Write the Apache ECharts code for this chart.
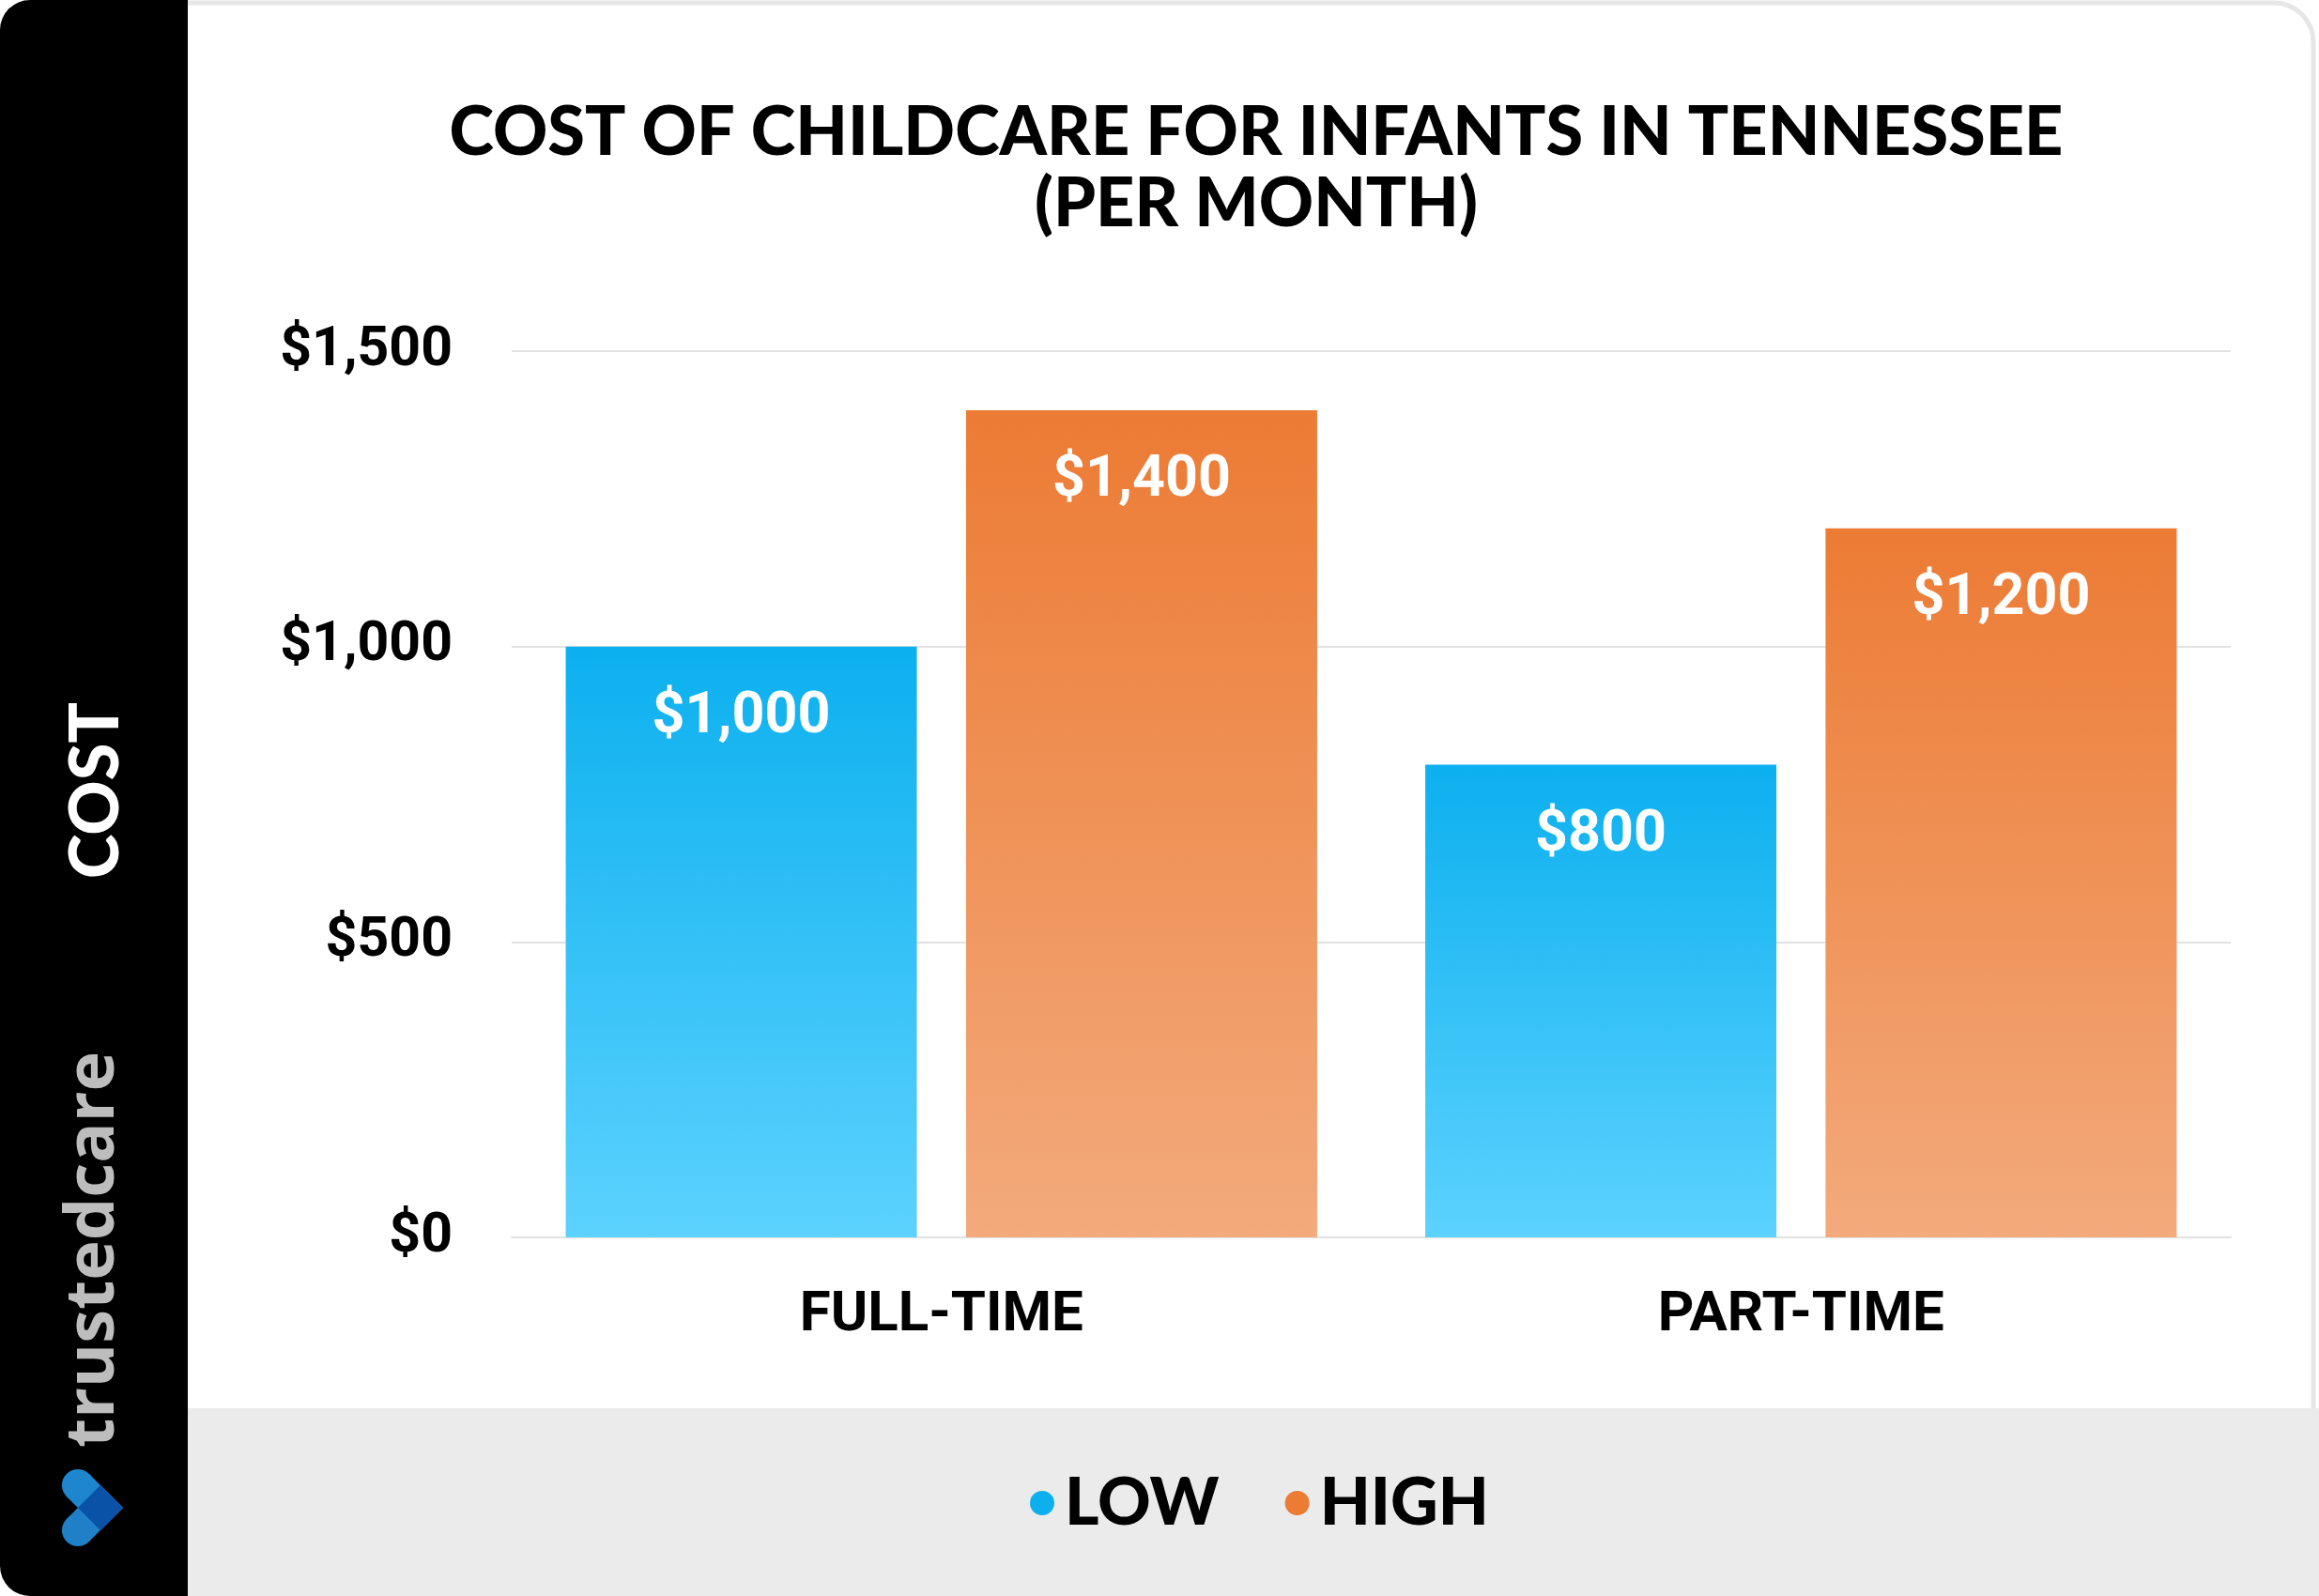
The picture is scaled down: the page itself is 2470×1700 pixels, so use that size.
<!DOCTYPE html>
<html>
<head>
<meta charset="utf-8">
<script src="https://cdn.jsdelivr.net/npm/echarts@6/dist/echarts.min.js"></script>
<style>
  html, body { margin: 0; padding: 0; background: #fff; }
  #chart { width: 2470px; height: 1700px; }
</style>
</head>
<body>
<div id="chart"></div>
<script>
  // data
  var categories = ['FULL-TIME', 'PART-TIME']
  var lowValues = [1000, 800]
  var highValues = [1400, 1200]
  var seriesNames = ['LOW', 'HIGH']
  var yTicks = [0, 500, 1000, 1500]

  var titleText = 'COST OF CHILDCARE FOR INFANTS IN TENNESSEE\n(PER MONTH)'
  var axisName = 'COST'
  var brandText = 'trustedcare'

  var blueTop = '#0cb0ef', blueBottom = '#5cd2fe'
  var orangeTop = '#ec7b34', orangeBottom = '#f3aa7c'

  function money(v) {
    return '$' + v.toLocaleString('en-US')
  }

  function grad(top, bottom) {
    return new echarts.graphic.LinearGradient(0, 0, 0, 1, [
      {offset: 0, color: top},
      {offset: 1, color: bottom}
    ])
  }

  // logo: two arms of a heart pointing right
  var T = [131, 1606], w = 34, L = 51, r2 = Math.SQRT1_2
  function add(a, b, k) { return [a[0] + b[0] * k, a[1] + b[1] * k] }
  var u = [-r2, -r2], n1 = [r2, -r2], v = [-r2, r2], n2 = [r2, r2]
  function armPoints(dir, nrm) {
    var b = add(T, dir, L)
    return [T, b, add(b, nrm, -w), add(T, nrm, -w)]
  }
  function armEnd(dir, nrm) {
    return add(add(T, dir, L), nrm, -w / 2)
  }
  var overlap = [T, add(T, n1, -w), add(add(T, n1, -w), n2, -w), add(T, n2, -w)]
  var endA = armEnd(u, n1), endB = armEnd(v, n2)

  var chart = echarts.init(document.getElementById('chart'))

  var labelStyle = {
    show: true, position: 'insideTop', distance: 46,
    fontFamily: 'Roboto', fontWeight: 'bold', fontSize: 61, lineHeight: 60,
    color: '#ffffff',
    formatter: function (p) { return money(p.value) }
  }

  var option = {
    animation: false,
    backgroundColor: '#ffffff',
    graphic: [
      {
        type: 'rect', z: -10, silent: true,
        shape: {x: 100, y: 3, width: 2364, height: 1694, r: [0, 42, 0, 0]},
        style: {fill: '#ffffff', stroke: '#e6e6e6', lineWidth: 5}
      },
      {
        type: 'rect', z: -9, silent: true,
        shape: {x: 150, y: 1500, width: 2320, height: 200},
        style: {fill: '#ebebeb'}
      },
      {
        type: 'rect', z: -8, silent: true,
        shape: {x: 0, y: 0, width: 200, height: 1700, r: [32, 0, 0, 32]},
        style: {fill: '#000000'}
      },
      {
        type: 'text', z: 10, silent: true,
        x: 1338, y: 180,
        style: {
          text: titleText, align: 'center', verticalAlign: 'middle',
          fontFamily: 'Lato', fontWeight: 900, fontSize: 72, lineHeight: 76,
          fill: '#000000'
        }
      },
      {
        type: 'text', z: 10, silent: true,
        x: 103, y: 842, rotation: Math.PI / 2,
        style: {
          text: axisName, align: 'center', verticalAlign: 'middle',
          fontFamily: 'Lato', fontWeight: 900, fontSize: 72, fill: '#ffffff'
        }
      },
      {
        type: 'text', z: 10, silent: true,
        x: 100, y: 1331, rotation: Math.PI / 2,
        style: {
          text: brandText, align: 'center', verticalAlign: 'middle',
          fontFamily: 'Open Sans', fontWeight: 'bold', fontSize: 72, fill: '#bdbdbd'
        }
      },
      {type: 'polygon', z: 10, silent: true, shape: {points: armPoints(u, n1)}, style: {fill: '#1e86cf'}},
      {type: 'circle', z: 10, silent: true, shape: {cx: endA[0], cy: endA[1], r: w / 2}, style: {fill: '#1e86cf'}},
      {type: 'polygon', z: 10, silent: true, shape: {points: armPoints(v, n2)}, style: {fill: '#1f7fc7'}},
      {type: 'circle', z: 10, silent: true, shape: {cx: endB[0], cy: endB[1], r: w / 2}, style: {fill: '#1f7fc7'}},
      {type: 'polygon', z: 11, silent: true, shape: {points: overlap}, style: {fill: '#0a52a8'}}
    ],
    legend: {
      left: 1092,
      top: 1561,
      itemWidth: 26,
      itemHeight: 26,
      itemGap: 70,
      icon: 'circle',
      textStyle: {
        fontFamily: 'Lato', fontWeight: 900, fontSize: 70, lineHeight: 70,
        color: '#000000', padding: [0, 0, 0, 6]
      },
      data: [
        {name: seriesNames[0], itemStyle: {color: blueTop}},
        {name: seriesNames[1], itemStyle: {color: orangeTop}}
      ]
    },
    grid: {
      left: 545,
      right: 94,
      top: 374,
      bottom: 382
    },
    xAxis: {
      type: 'category',
      data: categories,
      axisLine: {show: true, lineStyle: {color: '#e2e2e2', width: 2}},
      axisTick: {show: false},
      axisLabel: {
        margin: 54,
        fontFamily: 'Roboto', fontWeight: 'bold', fontSize: 60,
        color: '#000000'
      }
    },
    yAxis: {
      type: 'value',
      min: yTicks[0],
      max: yTicks[yTicks.length - 1],
      interval: yTicks[1] - yTicks[0],
      axisLine: {show: false},
      axisTick: {show: false},
      splitLine: {lineStyle: {color: '#e2e2e2', width: 2}},
      axisLabel: {
        margin: 63,
        fontFamily: 'Roboto', fontWeight: 'bold', fontSize: 59,
        color: '#000000',
        formatter: money
      }
    },
    series: [
      {
        name: seriesNames[0],
        type: 'bar',
        barWidth: 374,
        barGap: '14%',
        data: lowValues,
        itemStyle: {color: grad(blueTop, blueBottom)},
        label: labelStyle
      },
      {
        name: seriesNames[1],
        type: 'bar',
        barWidth: 374,
        barGap: '14%',
        data: highValues,
        itemStyle: {color: grad(orangeTop, orangeBottom)},
        label: labelStyle
      }
    ]
  }

  chart.setOption(option)
</script>
</body>
</html>
